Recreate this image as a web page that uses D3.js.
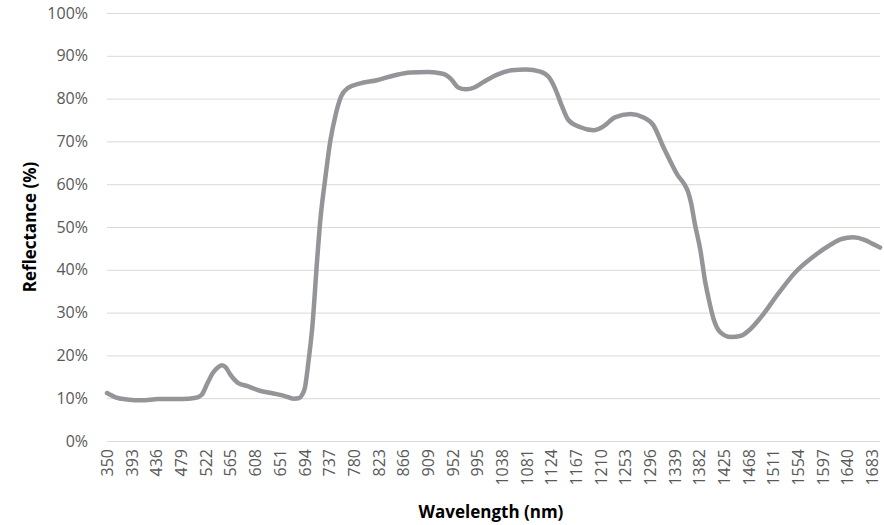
<!DOCTYPE html>
<html>
<head>
<meta charset="utf-8">
<script src="https://cdn.jsdelivr.net/npm/d3@7"></script>
<style>
  body { margin: 0; background: #fff; }
  text { font-family: "Open Sans", "Liberation Sans", sans-serif; }
</style>
</head>
<body>
<svg id="chart" width="884" height="525"></svg>
<script>
// wavelength (nm) samples and reflectance (%)
const wavelengths = [350, 365, 385, 410, 440, 480, 505, 515, 525, 535, 543, 550, 557, 565, 578, 595, 615, 640, 660, 675, 684,
  690, 695, 701, 708, 716, 722, 730, 739, 748, 758, 770, 790, 820, 850, 878, 910, 935, 950, 962, 975, 990,
  1005, 1030, 1055, 1080, 1105, 1120, 1132, 1142, 1154, 1175, 1198, 1215, 1235, 1262, 1285, 1302, 1320, 1330, 1345, 1355,
  1362, 1368, 1374, 1384, 1392, 1398, 1407, 1418, 1437, 1455, 1470, 1490, 1520, 1550, 1580, 1610, 1630, 1650, 1670, 1685, 1697];
const reflectance = [11.2, 10.2, 9.7, 9.5, 9.8, 9.8, 10.1, 10.8, 13.5, 16.0, 17.2, 17.7, 17.2, 15.5, 13.6, 12.8, 11.8, 11.1, 10.5, 9.9, 10.0,
  10.8, 12.5, 18.5, 27, 42, 52, 61, 70, 76, 80.5, 82.5, 83.5, 84.3, 85.4, 86.1, 86.2, 85.8, 84.5, 82.6, 82.2, 82.6,
  83.8, 85.6, 86.6, 86.8, 86.3, 85.0, 82, 78.5, 75, 73.3, 72.6, 73.5, 75.6, 76.4, 75.6, 73.8, 68.5, 65.8, 62, 60.2,
  58.4, 55.5, 51, 44.6, 37.5, 33.5, 28.5, 25.5, 24.3, 24.6, 26, 29, 34.5, 39.5, 43, 45.8, 47.2, 47.6, 47, 46, 45.2];
const xTicks = d3.range(350, 1684, 43);   // 350, 393, ... 1683
const yTicks = d3.range(0, 101, 10);

const svg = d3.select("#chart");
const plotLeft = 107, plotRight = 880, plotTop = 13, plotBottom = 441;

const x = d3.scaleLinear().domain([350, 1697]).range([plotLeft, plotRight]);
const y = d3.scaleLinear().domain([0, 100]).range([plotBottom, plotTop]);

//gridlines + y labels
const yAxis = svg.append("g")
    .attr("transform", "translate(" + plotLeft + ",0)")
    .call(d3.axisLeft(y).tickValues(yTicks).tickSize(-(plotRight - plotLeft)).tickPadding(19)
          .tickFormat(d => d + "%"));
yAxis.select(".domain").remove();
yAxis.selectAll("line").attr("stroke", "#d9d9d9").attr("stroke-width", 1);
yAxis.selectAll("text").attr("fill", "#595959").style("font-size", "16px");

//x labels, rotated
const xAxis = svg.append("g")
    .attr("transform", "translate(0," + plotBottom + ")")
    .call(d3.axisBottom(x).tickValues(xTicks).tickSize(0).tickFormat(d3.format("d")));
xAxis.select(".domain").remove();
xAxis.selectAll("text")
    .attr("fill", "#595959")
    .style("font-size", "16px")
    .attr("transform", "rotate(-90)")
    .attr("text-anchor", "end")
    .attr("x", -8)
    .attr("y", 0)
    .attr("dy", "0.35em");

const line = d3.line()
    .x((d, i) => x(wavelengths[i]))
    .y(d => y(d))
    .curve(d3.curveMonotoneX);

svg.append("path")
    .datum(reflectance)
    .attr("d", line)
    .attr("fill", "none")
    .attr("stroke", "#939598")
    .attr("stroke-width", 4.5)
    .attr("stroke-linejoin", "round")
    .attr("stroke-linecap", "round");

svg.append("text")
    .attr("x", 491).attr("y", 518)
    .attr("text-anchor", "middle")
    .style("font-size", "17px").style("font-weight", "bold")
    .attr("fill", "#000")
    .text("Wavelength (nm)");

svg.append("text")
    .attr("transform", "translate(36,227) rotate(-90)")
    .attr("text-anchor", "middle")
    .style("font-size", "17px").style("font-weight", "bold")
    .attr("fill", "#000")
    .text("Reflectance (%)");
</script>
</body>
</html>
